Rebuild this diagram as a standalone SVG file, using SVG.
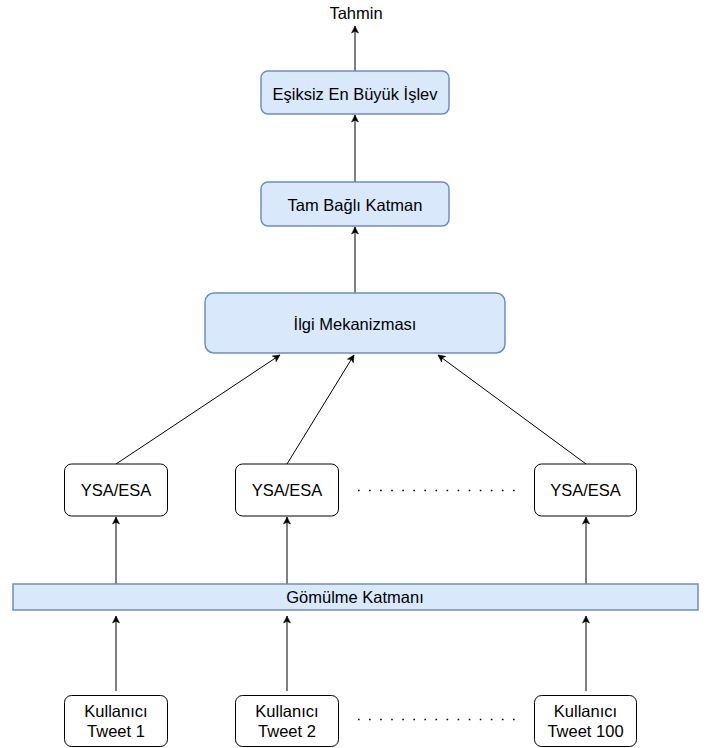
<svg xmlns="http://www.w3.org/2000/svg" width="713" height="748" viewBox="0 0 713 748">
<style>
text{font-family:"Liberation Sans",Arial,sans-serif;font-size:16.5px;fill:#000;text-anchor:middle}
.blue{fill:#dae8fc;stroke:#6c8ebf;stroke-width:1.5}
.white{fill:#fff;stroke:#000;stroke-width:1}
.conn{stroke:#000;stroke-width:1;fill:none;marker-end:url(#arr)}
.dots{stroke:#000;stroke-width:1.6;stroke-dasharray:1.6 9.47;fill:none}
</style>
<defs>
<marker id="arr" viewBox="-8 -4 9 8" markerWidth="9" markerHeight="8" refX="0" refY="0" orient="auto" markerUnits="userSpaceOnUse">
<path d="M0,0 L-7,-3.5 L-5.2,0 L-7,3.5 Z" fill="#000" stroke="#000" stroke-width="0.5"/>
</marker>
</defs>
<rect width="713" height="748" fill="#fff"/>
<g id="connectors">
<path class="conn" d="M355,71 L355,26"/>
<path class="conn" d="M355,182 L355,115"/>
<path class="conn" d="M355,293 L355,227"/>
<path class="conn" d="M116,464 L280,355"/>
<path class="conn" d="M287,464 L354,355"/>
<path class="conn" d="M586,464 L438,355"/>
<path class="conn" d="M116,584 L116,517"/>
<path class="conn" d="M287,584 L287,517"/>
<path class="conn" d="M586,584 L586,517"/>
<path class="conn" d="M116,691 L116,616"/>
<path class="conn" d="M287,691 L287,616"/>
<path class="conn" d="M586,691 L586,616"/>
</g>
<g id="tahmin"><text x="356" y="19">Tahmin</text></g>
<g id="esiksiz"><rect class="blue" x="261" y="71" width="188" height="43" rx="7"/><text x="355" y="99.5">Eşiksiz En Büyük İşlev</text></g>
<g id="tambagli"><rect class="blue" x="261" y="182" width="188" height="44" rx="7"/><text x="355" y="210.5">Tam Bağlı Katman</text></g>
<g id="ilgi"><rect class="blue" x="205" y="293" width="300" height="60" rx="9"/><text x="355" y="329.5">İlgi Mekanizması</text></g>
<g id="ysa1"><rect class="white" x="64.5" y="464" width="103" height="52" rx="7"/><text x="116" y="496">YSA/ESA</text></g>
<g id="ysa2"><rect class="white" x="235.5" y="464" width="103" height="52" rx="7"/><text x="287" y="496">YSA/ESA</text></g>
<g id="ysa3"><rect class="white" x="534.5" y="464" width="102" height="52" rx="7"/><text x="585.5" y="496">YSA/ESA</text></g>
<g id="dots1"><path class="dots" d="M358,490.5 L515,490.5"/></g>
<g id="gomulme"><rect class="blue" x="13" y="584" width="685" height="26" rx="0"/><text x="355" y="603">Gömülme Katmanı</text></g>
<g id="kullanici1"><rect class="white" x="64.5" y="695.5" width="103" height="51" rx="7"/><text x="116" y="717">Kullanıcı</text><text x="116" y="736.5">Tweet 1</text></g>
<g id="kullanici2"><rect class="white" x="235.5" y="695.5" width="103" height="51" rx="7"/><text x="287" y="717">Kullanıcı</text><text x="287" y="736.5">Tweet 2</text></g>
<g id="kullanici3"><rect class="white" x="534.5" y="695.5" width="102" height="51" rx="7"/><text x="585.5" y="717">Kullanıcı</text><text x="585.5" y="736.5">Tweet 100</text></g>
<g id="dots2"><path class="dots" d="M358,719.5 L515,719.5"/></g>
</svg>
